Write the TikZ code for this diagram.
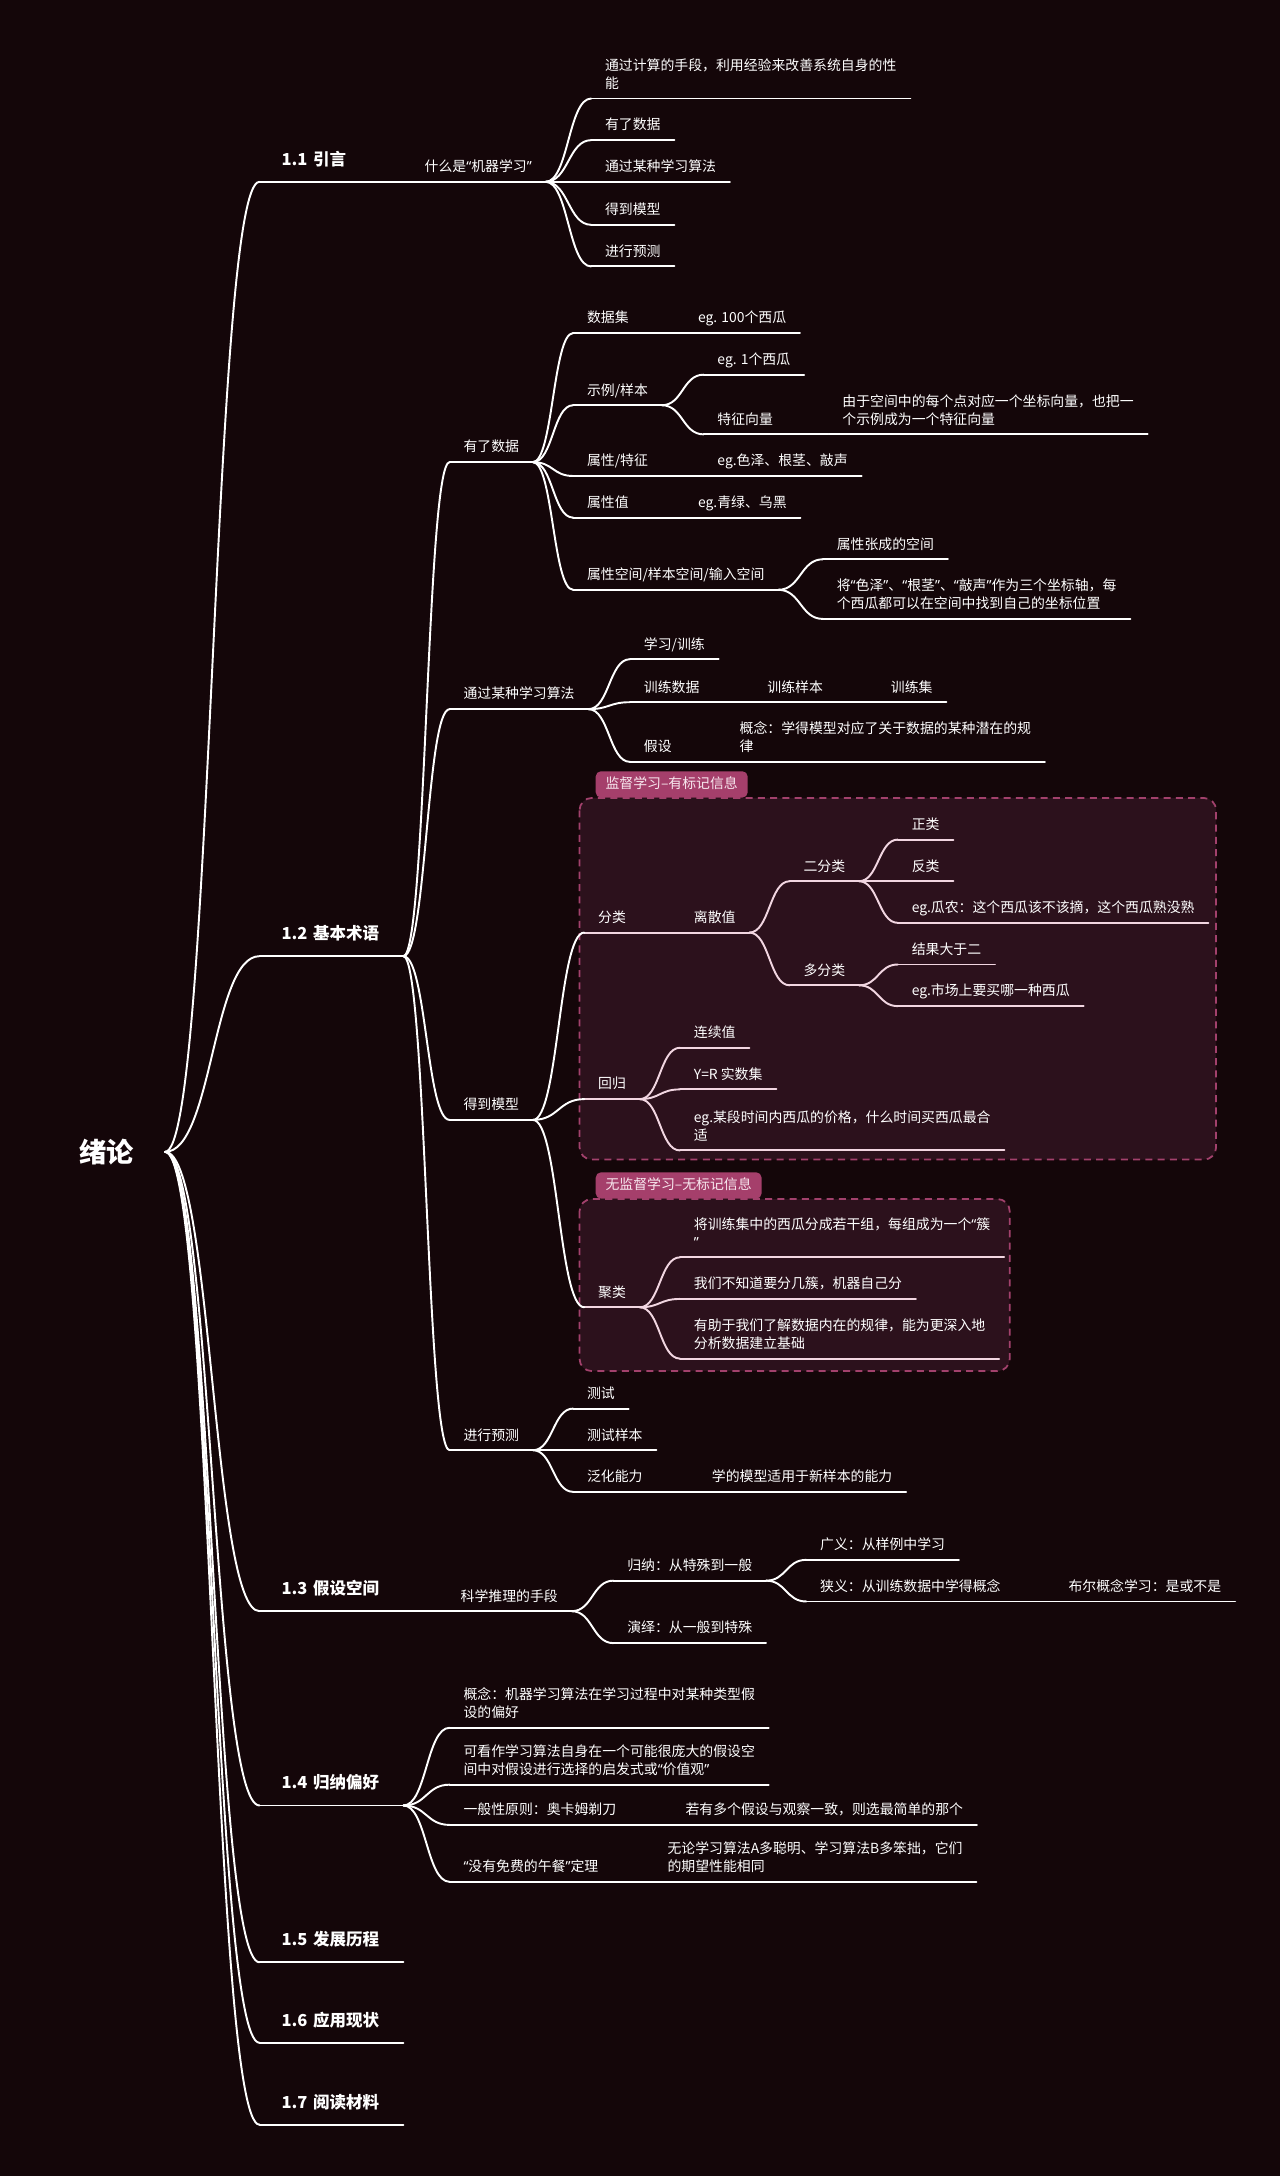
\documentclass[tikz,border=0pt]{standalone}
\usepackage{fontspec}
\setmainfont{Noto Sans CJK SC}
\newfontfamily\quotefont{Noto Sans}
\usepackage{xcolor}
\usepackage{tikz}
\usetikzlibrary{calc}

\definecolor{bg}{HTML}{140609}
\definecolor{boxfill}{HTML}{2C111C}
\definecolor{boxline}{HTML}{A2416C}
\definecolor{tabfill}{HTML}{A53F6B}
\definecolor{tabtext}{HTML}{F8E8EF}
\definecolor{pinkwire}{HTML}{F2D6E1}

% narrow quotation marks
\newcommand\qt[1]{{\quotefont “}#1{\quotefont ”}}

\tikzset{
  wire/.style={draw=white, line width=1.1pt, line cap=round},
  boxwire/.style={draw=pinkwire, line width=1.1pt, line cap=round},
  topic/.style={anchor=south west, outer sep=0pt, inner xsep=7.9pt, inner ysep=3.8pt,
    text depth=2pt, align=left, text=white, font=\fontsize{7.9}{10.2}\selectfont,
    append after command={(\tikzlastnode.south west) edge[#1] (\tikzlastnode.south east)}},
  topic/.default=wire,
  chapter/.style={topic, inner xsep=12.6pt, inner ysep=7.4pt, text width=56.7pt,
    font=\fontsize{9.4}{12}\selectfont\bfseries},
  root/.style={text=white, inner sep=0pt, font=\fontsize{15.5}{18}\selectfont\bfseries},
  hub/.style={inner sep=0pt, outer sep=0pt, minimum size=0pt},
  box/.style={fill=boxfill, draw=boxline, dash pattern=on 4pt off 3pt, line width=1pt, rounded corners=7pt},
  tab/.style={anchor=south west, fill=tabfill, rounded corners=3pt, text=tabtext,
    inner xsep=5.6pt, inner ysep=3.45pt, text height=6.5pt, text depth=1.6pt,
    font=\fontsize{7.9}{10}\selectfont},
}

% curved link from the end of one underline to the start of the next
\newcommand\branch[3][wire]{\draw[#1] let \p1=(#2.south east), \p2=(#3.south west) in
  (\p1) .. controls ({(\x1+\x2)/2},\y1) and ({(\x1+\x2)/2},\y2) .. (\p2);}

\begin{document}
\begin{tikzpicture}[x=0.02777cm, y=-0.02777cm]
    % Background
    \fill[bg] (0,0) rectangle (922,1568);

    % Group boxes
    \draw[box] (417.6,575) rectangle (876.3,835.6);
    \node[tab] (sup) at (429,575) {监督学习–有标记信息};
    \draw[box] (417.6,864) rectangle (727.6,988);
    \node[tab] (unsup) at (429,864) {无监督学习–无标记信息};

    % Root
    \node[root] (root) at (77,830) {绪论};
    \node[hub] (hub) at (119,830) {};

    % 1.1
    \node[chapter] (s11) at (187,131) {1.1 引言};
    \node[topic] (what) at (296,131) {什么是\qt{机器学习}};
    \node[topic] (what1) at (426,71) {通过计算的手段，利用经验来改善系统自身的性\\能};
    \node[topic] (what2) at (426,101) {有了数据};
    \node[topic] (what3) at (426,131) {通过某种学习算法};
    \node[topic] (what4) at (426,162) {得到模型};
    \node[topic] (what5) at (426,192) {进行预测};

    % 1.2
    \node[chapter] (s12) at (187,689) {1.2 基本术语};
    \node[topic] (data) at (324,333) {有了数据};
    \node[topic] (dset) at (413,240) {数据集};
    \node[topic] (dsetx) at (493,240) {eg. 100个西瓜};
    \node[topic] (inst) at (413,292) {示例/样本};
    \node[topic] (instx) at (507,270) {eg. 1个西瓜};
    \node[topic] (fvec) at (507,313) {特征向量};
    \node[topic] (fvecx) at (597,313) {由于空间中的每个点对应一个坐标向量，也把一\\个示例成为一个特征向量};
    \node[topic] (attr) at (413,343) {属性/特征};
    \node[topic] (attrx) at (507,343) {eg.色泽、根茎、敲声};
    \node[topic] (aval) at (413,373) {属性值};
    \node[topic] (avalx) at (493,373) {eg.青绿、乌黑};
    \node[topic] (aspace) at (413,425) {属性空间/样本空间/输入空间};
    \node[topic] (aspace1) at (593,403) {属性张成的空间};
    \node[topic] (aspace2) at (593,446) {将\qt{色泽}、\qt{根茎}、\qt{敲声}作为三个坐标轴，每\\个西瓜都可以在空间中找到自己的坐标位置};

    \node[topic] (algo) at (324,511) {通过某种学习算法};
    \node[topic] (train) at (454,475) {学习/训练};
    \node[topic] (tdata) at (454,506) {训练数据};
    \node[topic] (tsample) at (543,506) {训练样本};
    \node[topic] (tset) at (632,506) {训练集};
    \node[topic] (hyp) at (454,549) {假设};
    \node[topic] (hypx) at (523,549) {概念：学得模型对应了关于数据的某种潜在的规\\律};

    \node[topic] (model) at (324,807) {得到模型};
    \node[topic=boxwire] (cls) at (421,672) {分类};
    \node[topic=boxwire] (disc) at (490,672) {离散值};
    \node[topic=boxwire] (bin) at (569,635) {二分类};
    \node[topic=boxwire] (pos) at (647,605) {正类};
    \node[topic=boxwire] (neg) at (647,635) {反类};
    \node[topic=boxwire] (binx) at (647,665) {eg.瓜农：这个西瓜该不该摘，这个西瓜熟没熟};
    \node[topic=boxwire] (multi) at (569,710) {多分类};
    \node[topic=boxwire] (multi1) at (647,695) {结果大于二};
    \node[topic=boxwire] (multix) at (647,725) {eg.市场上要买哪一种西瓜};
    \node[topic=boxwire] (reg) at (421,792) {回归};
    \node[topic=boxwire] (cont) at (490,755) {连续值};
    \node[topic=boxwire] (real) at (490,785) {Y=R 实数集};
    \node[topic=boxwire] (regx) at (490,829) {eg.某段时间内西瓜的价格，什么时间买西瓜最合\\适};
    \node[topic=boxwire] (clu) at (421,942) {聚类};
    \node[topic=boxwire] (clu1) at (490,906) {将训练集中的西瓜分成若干组，每组成为一个{\quotefont “}簇\\{\quotefont ”}};
    \node[topic=boxwire] (clu2) at (490,936) {我们不知道要分几簇，机器自己分};
    \node[topic=boxwire] (clu3) at (490,979) {有助于我们了解数据内在的规律，能为更深入地\\分析数据建立基础};

    \node[topic] (pred) at (324,1045) {进行预测};
    \node[topic] (test) at (413,1015) {测试};
    \node[topic] (tests) at (413,1045) {测试样本};
    \node[topic] (gen) at (413,1075) {泛化能力};
    \node[topic] (genx) at (503,1075) {学的模型适用于新样本的能力};

    % 1.3
    \node[chapter] (s13) at (187,1161) {1.3 假设空间};
    \node[topic] (sci) at (322,1161) {科学推理的手段};
    \node[topic] (ind) at (442,1139) {归纳：从特殊到一般};
    \node[topic] (broad) at (581,1124) {广义：从样例中学习};
    \node[topic] (narrow) at (581,1154) {狭义：从训练数据中学得概念};
    \node[topic] (bool) at (760,1154) {布尔概念学习：是或不是};
    \node[topic] (ded) at (442,1184) {演绎：从一般到特殊};

    % 1.4
    \node[chapter] (s14) at (187,1301) {1.4 归纳偏好};
    \node[topic] (bias1) at (324,1245) {概念：机器学习算法在学习过程中对某种类型假\\设的偏好};
    \node[topic] (bias2) at (324,1286) {可看作学习算法自身在一个可能很庞大的假设空\\间中对假设进行选择的启发式或\qt{价值观}};
    \node[topic] (occam) at (324,1315) {一般性原则：奥卡姆剃刀};
    \node[topic] (occamx) at (484,1315) {若有多个假设与观察一致，则选最简单的那个};
    \node[topic] (nfl) at (324,1356) {\qt{没有免费的午餐}定理};
    \node[topic] (nflx) at (471,1356) {无论学习算法A多聪明、学习算法B多笨拙，它们\\的期望性能相同};

    % 1.5 - 1.7
    \node[chapter] (s15) at (187,1414) {1.5 发展历程};
    \node[chapter] (s16) at (187,1472) {1.6 应用现状};
    \node[chapter] (s17) at (187,1531) {1.7 阅读材料};

    % Links
    \foreach \s in {s11,s12,s13,s14,s15,s16,s17} {\branch{hub}{\s}}
    \branch{s11}{what}
    \foreach \c in {what1,what2,what3,what4,what5} {\branch{what}{\c}}
    \foreach \c in {data,algo,model,pred} {\branch{s12}{\c}}
    \foreach \c in {dset,inst,attr,aval,aspace} {\branch{data}{\c}}
    \branch{dset}{dsetx}
    \branch{inst}{instx}
    \branch{inst}{fvec}
    \branch{fvec}{fvecx}
    \branch{attr}{attrx}
    \branch{aval}{avalx}
    \branch{aspace}{aspace1}
    \branch{aspace}{aspace2}
    \foreach \c in {train,tdata,hyp} {\branch{algo}{\c}}
    \branch{tdata}{tsample}
    \branch{tsample}{tset}
    \branch{hyp}{hypx}
    \foreach \c in {cls,reg,clu} {\branch{model}{\c}}
    \branch[boxwire]{cls}{disc}
    \branch[boxwire]{disc}{bin}
    \branch[boxwire]{disc}{multi}
    \foreach \c in {pos,neg,binx} {\branch[boxwire]{bin}{\c}}
    \foreach \c in {multi1,multix} {\branch[boxwire]{multi}{\c}}
    \foreach \c in {cont,real,regx} {\branch[boxwire]{reg}{\c}}
    \foreach \c in {clu1,clu2,clu3} {\branch[boxwire]{clu}{\c}}
    \foreach \c in {test,tests,gen} {\branch{pred}{\c}}
    \branch{gen}{genx}
    \branch{s13}{sci}
    \branch{sci}{ind}
    \branch{sci}{ded}
    \branch{ind}{broad}
    \branch{ind}{narrow}
    \branch{narrow}{bool}
    \foreach \c in {bias1,bias2,occam,nfl} {\branch{s14}{\c}}
    \branch{occam}{occamx}
    \branch{nfl}{nflx}
\end{tikzpicture}
\end{document}
